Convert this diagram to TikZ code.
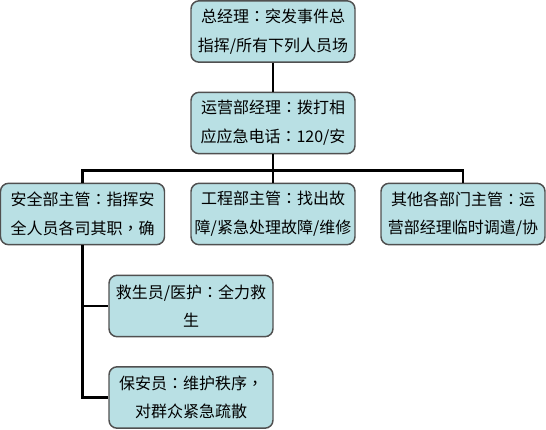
\documentclass[tikz,border=0pt]{standalone}
\usepackage{fontspec}
\setmainfont{Noto Sans CJK SC}
\newfontfamily\tcfont{Noto Sans CJK TC}
\newcommand{\cc}{{\tcfont ：}}
\newcommand{\cm}{{\tcfont ，}}
\definecolor{boxfill}{HTML}{B9E0E4}
\definecolor{boxline}{HTML}{505050}
\begin{document}
\begin{tikzpicture}[x=0.75pt,y=-0.75pt,
  orgbox/.style={draw=boxline, line width=1.1pt, fill=boxfill, rounded corners=6pt,
    minimum width=123pt, minimum height=46pt, inner sep=0pt, align=center,
    font=\fontsize{12pt}{21.5pt}\selectfont},
  link/.style={line width=2.2pt, black}]
\useasboundingbox (0,0) rectangle (546,429);
\node[orgbox] (top) at (273,31.5) {总经理\cc 突发事件总\\指挥/所有下列人员场};
\node[orgbox] (mid) at (273,123) {运营部经理\cc 拨打相\\应应急电话\cc 120/安};
\node[orgbox] (b1) at (82.5,214) {安全部主管\cc 指挥安\\全人员各司其职\cm 确};
\node[orgbox] (b2) at (273,214) {工程部主管\cc 找出故\\障/紧急处理故障/维修};
\node[orgbox] (b3) at (463,214) {其他各部门主管\cc 运\\营部经理临时调遣/协};
\node[orgbox] (b4) at (191,306) {救生员/医护\cc 全力救\\生};
\node[orgbox] (b5) at (191,397.5) {保安员\cc 维护秩序\cm\\对群众紧急疏散};
\coordinate (bus) at (273,170.5);
\draw[link] (top.south) -- (mid.north);
\draw[link] (mid.south) -- (bus);
\draw[link] (bus) -| (b1.north);
\draw[link] (bus) -| (b3.north);
\draw[link] (bus) -- (b2.north);
\draw[link] (b1.south) |- (b4.west);
\draw[link] (b1.south) |- (b5.west);
\end{tikzpicture}
\end{document}
